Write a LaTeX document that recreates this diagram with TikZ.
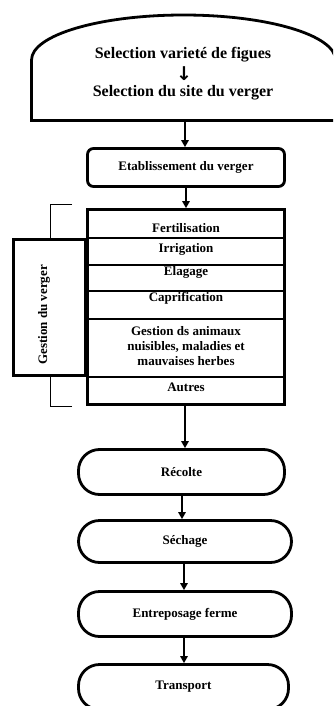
\documentclass[tikz,border=0pt]{standalone}
\usepackage{fontspec}
\setmainfont{Liberation Serif}
\newfontfamily\arrowfont{DejaVu Sans}
\usetikzlibrary{arrows.meta}
\begin{document}
\begin{tikzpicture}[x=1pt,y=-1pt,
  thickbox/.style={line width=2.8pt},
  thinline/.style={line width=1.4pt},
  bracketline/.style={line width=1pt},
  arr/.style={line width=1.4pt,-{Triangle[width=7.5pt,length=7pt]}},
  lbl/.style={font=\fontsize{13}{15}\selectfont\bfseries, inner sep=0pt, align=center},
  biglbl/.style={font=\fontsize{16}{19}\selectfont\bfseries, inner sep=0pt},
  stad/.style={draw, line width=2.8pt, rounded corners=21pt, minimum width=#1, minimum height=45pt,
    font=\fontsize{13}{15}\selectfont\bfseries, inner sep=0pt}]
\useasboundingbox (0,0) rectangle (333,706);
\clip (0,0) rectangle (333,706);

% top shape
\draw[thickbox] (31.5,120.5) -- (31.5,60) arc[start angle=180, end angle=360, x radius=152, y radius=45]
  -- (335.5,120.5) -- cycle;
\node[biglbl] (sel1) at (183,55) {Selection varieté de figues};
\node[inner sep=0pt, font=\arrowfont\fontsize{19}{21}\selectfont\bfseries] (selarr) at (184,74) {↓};
\node[biglbl] (sel2) at (183,93) {Selection du site du verger};
\coordinate (topb) at (185,122);

% Etablissement
\node[draw, thickbox, rounded corners=6pt, minimum width=197pt, minimum height=38pt,
  font=\fontsize{13}{15}\selectfont\bfseries, inner sep=0pt] (etab) at (186,167.5) {Etablissement du verger};

% big box
\node[draw, thickbox, minimum width=197pt, minimum height=195pt, inner sep=0pt] (gbox) at (186,307) {};
\foreach \yy in {238,265,291,319,377}
  \draw[thinline] (gbox.west |- 0,\yy) -- (gbox.east |- 0,\yy);
\node[lbl] (c1) at (186,228) {Fertilisation};
\node[lbl] (c2) at (186,249) {Irrigation};
\node[lbl] (c3) at (186,272) {Elagage};
\node[lbl] (c4) at (186,298) {Caprification};
\node[lbl] (c5) at (186,346) {Gestion ds animaux\\nuisibles, maladies et\\mauvaises herbes};
\node[lbl] (c6) at (186,387) {Autres};

% left box
\node[draw, thickbox, minimum width=72pt, minimum height=136pt, inner sep=0pt] (lbox) at (49.5,307.5) {};
\node[lbl, rotate=90] (lboxt) at (44,315) {Gestion du verger};

% brackets
\coordinate (b1) at (72,204);
\coordinate (b2) at (72,406);
\draw[bracketline] (b1) -- (50,204) -- (50,238);
\draw[bracketline] (b2) -- (50,406) -- (50,377);

% stadiums
\node[stad=206pt] (rec) at (181.5,472) {Récolte};
\node[stad=213pt, minimum height=42pt] (sech) at (185,541.5) {Séchage};
\node[stad=213pt] (entr) at (185,614) {Entreposage ferme};
\node[stad=210pt] (tran) at (183.5,687) {Transport};

% arrows
\draw[arr] (topb) -- (topb |- etab.north);
\draw[arr] (etab.south) -- (etab.south |- gbox.north);
\draw[arr] ([xshift=-1pt]gbox.south) -- ([xshift=-1pt]gbox.south |- rec.north);
\draw[arr] ([xshift=0.5pt]rec.south) -- ([xshift=0.5pt]rec.south |- sech.north);
\draw[arr] ([xshift=-1pt]sech.south) -- ([xshift=-1pt]sech.south |- entr.north);
\draw[arr] ([xshift=-1pt]entr.south) -- ([xshift=-1pt]entr.south |- tran.north);
\end{tikzpicture}
\end{document}
